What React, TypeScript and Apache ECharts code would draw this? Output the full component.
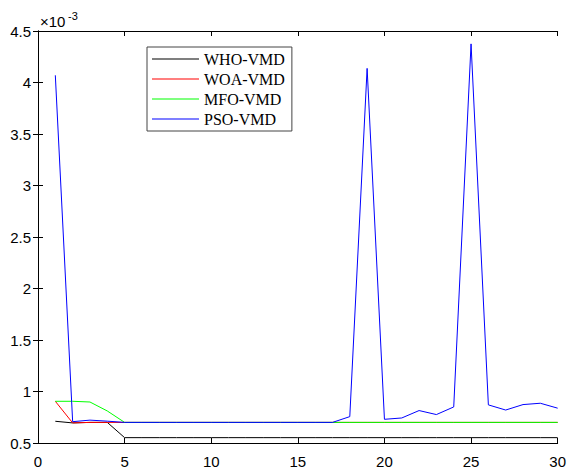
import React, { useEffect, useRef } from "react";
import * as echarts from "echarts";

const iterations = Array.from({ length: 30 }, (_, i) => i + 1);
const whoVmd = [0.711, 0.695, 0.70, 0.70, 0.552, 0.552, 0.552, 0.552, 0.552, 0.552, 0.552, 0.552, 0.552, 0.552, 0.552, 0.552, 0.552, 0.552, 0.552, 0.552, 0.552, 0.552, 0.552, 0.552, 0.552, 0.552, 0.552, 0.552, 0.552, 0.552];
const woaVmd = [0.905, 0.695, 0.70, 0.70, 0.70, 0.70, 0.70, 0.70, 0.70, 0.70, 0.70, 0.70, 0.70, 0.70, 0.70, 0.70, 0.70, 0.70, 0.70, 0.70, 0.70, 0.70, 0.70, 0.70, 0.70, 0.70, 0.70, 0.70, 0.70, 0.70];
const mfoVmd = [0.905, 0.905, 0.898, 0.811, 0.70, 0.70, 0.70, 0.70, 0.70, 0.70, 0.70, 0.70, 0.70, 0.70, 0.70, 0.70, 0.70, 0.70, 0.70, 0.70, 0.70, 0.70, 0.70, 0.70, 0.70, 0.70, 0.70, 0.70, 0.70, 0.70];
const psoVmd = [4.07, 0.707, 0.722, 0.712, 0.70, 0.70, 0.70, 0.70, 0.70, 0.70, 0.70, 0.70, 0.70, 0.70, 0.70, 0.70, 0.70, 0.756, 4.137, 0.73, 0.743, 0.815, 0.776, 0.85, 4.375, 0.87, 0.82, 0.873, 0.886, 0.838];
const seriesNames = ["WHO-VMD", "WOA-VMD", "MFO-VMD", "PSO-VMD"];
const seriesColors = ["#000000", "#ff0000", "#00ff00", "#0000ff"];
const scaleBase = "×10";
const scaleExponent = "-3";

export default function App() {
  const ref = useRef<HTMLDivElement>(null);
  useEffect(() => {
    if (!ref.current) return;
    const chart = echarts.init(ref.current, null, { renderer: "svg" });
    const datasets = [whoVmd, woaVmd, mfoVmd, psoVmd];
    const axisLabelStyle = { color: "#000", fontFamily: "Liberation Sans, Arial, sans-serif", fontSize: 15 };
    const axisLine = { show: true, lineStyle: { color: "#000", width: 1 } };
    const tick = { show: true, inside: true, length: 5, lineStyle: { color: "#000" } };
    chart.setOption({
      animation: false,
      backgroundColor: "#fff",
      grid: { left: 38, top: 31, width: 522, height: 412, containLabel: false },
      xAxis: [
        {
          type: "value", min: 0, max: 30, interval: 5, position: "bottom",
          axisLine, axisTick: tick,
          axisLabel: { ...axisLabelStyle, margin: 11 }, splitLine: { show: false },
        },
        {
          type: "value", min: 0, max: 30, interval: 5, position: "top",
          axisLine, axisTick: tick,
          axisLabel: { show: false }, splitLine: { show: false },
        },
      ],
      yAxis: [
        {
          type: "value", min: 0.5, max: 4.5, interval: 0.5, position: "left",
          axisLine, axisTick: tick,
          axisLabel: { ...axisLabelStyle, margin: 7, formatter: (v: number) => String(+v.toFixed(1)) },
          splitLine: { show: false },
        },
        {
          type: "value", min: 0.5, max: 4.5, interval: 0.5, position: "right",
          axisLine, axisTick: tick,
          axisLabel: { show: false }, splitLine: { show: false },
        },
      ],
      legend: {
        orient: "vertical",
        left: 147, top: 47,
        backgroundColor: "#fff",
        borderColor: "#444", borderWidth: 1,
        padding: [4, 7, 4, 5],
        itemGap: 4,
        itemWidth: 47, itemHeight: 16,
        icon: "path://M0,8 L47,8 L47,9 L0,9 Z",
        textStyle: { color: "#000", fontFamily: "Liberation Serif, Times New Roman, serif", fontSize: 16 },
        data: seriesNames,
      },
      graphic: [
        {
          type: "text", left: 40, top: 14,
          style: { text: scaleBase, font: "15px 'Liberation Sans'", fill: "#000" },
        },
        {
          type: "text", left: 68, top: 10,
          style: { text: scaleExponent, font: "11px 'Liberation Sans'", fill: "#000" },
        },
      ],
      series: datasets.map((d, i) => ({
        name: seriesNames[i],
        type: "line",
        data: d.map((v, j) => [iterations[j], v]),
        showSymbol: false,
        symbol: "none",
        lineStyle: { color: seriesColors[i], width: 1 },
        itemStyle: { color: seriesColors[i] },
        xAxisIndex: 0, yAxisIndex: 0,
      })),
    });
    return () => chart.dispose();
  }, []);
  return <div ref={ref} style={{ position: "fixed", left: 0, top: 0, width: 569, height: 469 }} />;
}
